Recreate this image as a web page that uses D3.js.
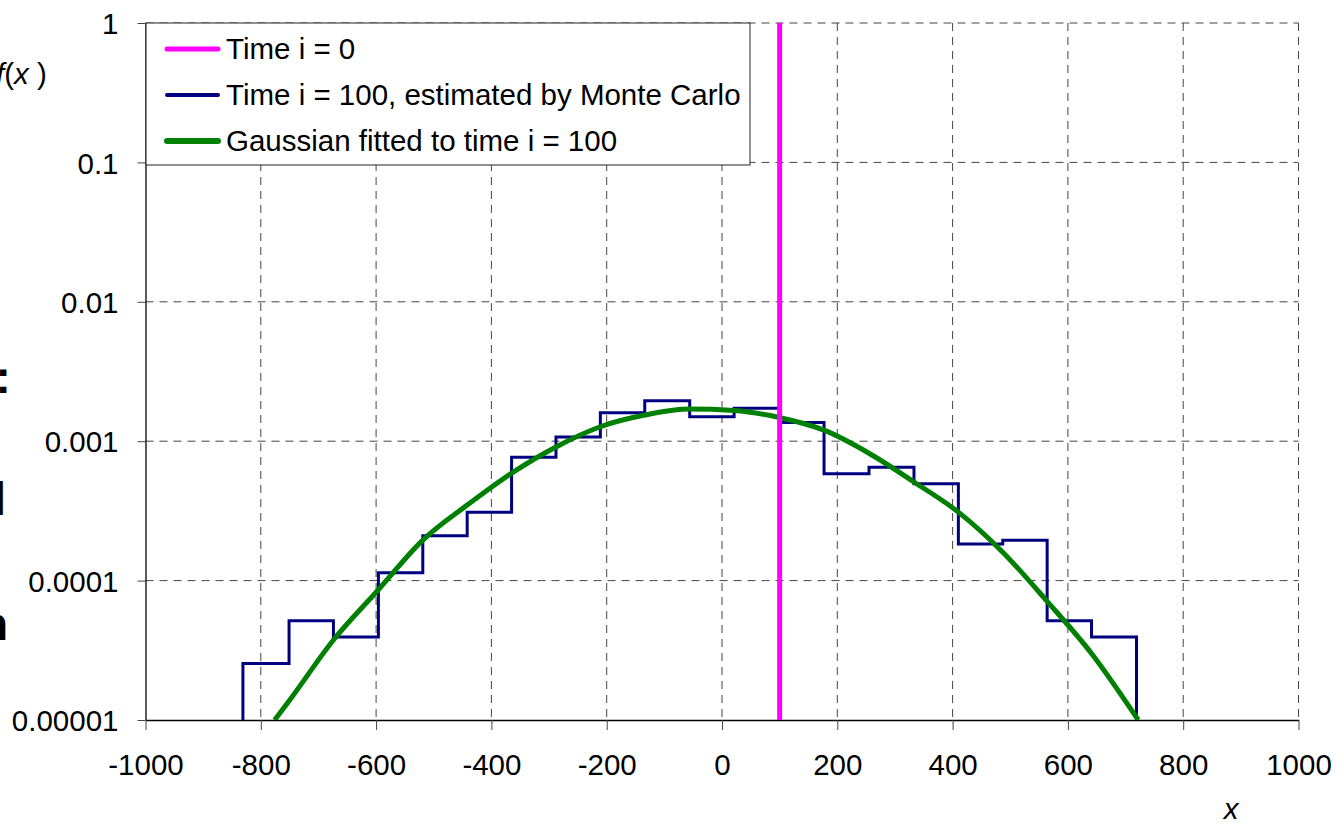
<!DOCTYPE html>
<html>
<head>
<meta charset="utf-8">
<script src="https://cdn.jsdelivr.net/npm/d3@7"></script>
<style>
  body { margin: 0; background: #fff; }
  svg { display: block; font-family: "Liberation Sans", Arial, sans-serif; }
</style>
</head>
<body>
<svg id="chart"></svg>
<script>
// Chart dimensions
const totalWidth = 1344, totalHeight = 825;
const margin = { top: 23, right: 45.5, bottom: 105, left: 145.5 };
const width = totalWidth - margin.left - margin.right;
const height = totalHeight - margin.top - margin.bottom;
const fontSize = "29.5px";

// Data
const xTicks = [-1000, -800, -600, -400, -200, 0, 200, 400, 600, 800, 1000];
const yTicks = [1e-5, 1e-4, 1e-3, 1e-2, 1e-1, 1];
const yTickLabels = ["0.00001", "0.0001", "0.001", "0.01", "0.1", "1"];

// time i = 0 : all mass at x = 100
const initialX = 100;

// Monte Carlo histogram at time i = 100 (bin edges and densities)
const binEdges = [-831, -751, -674, -596, -519, -442, -365, -288, -211, -134, -56,
                  21, 99, 177, 255, 333, 410, 487, 564, 641, 719];
const mcDensity = [2.54e-5, 5.15e-5, 3.94e-5, 1.14e-4, 2.10e-4, 3.09e-4, 7.67e-4, 1.07e-3, 1.60e-3, 1.95e-3,
                   1.50e-3, 1.72e-3, 1.36e-3, 5.85e-4, 6.50e-4, 4.95e-4, 1.83e-4, 1.95e-4, 5.15e-5, 3.94e-5];

// Gaussian fitted to time i = 100
const gaussX = [-776, -751, -674, -596, -519, -442, -365, -288, -211, -134, -56,
                21, 99, 177, 255, 333, 410, 487, 564, 641, 722];
const gaussY = [1.0e-5, 1.37e-5, 3.75e-5, 8.6e-5, 1.95e-4, 3.48e-4, 5.9e-4, 9.1e-4, 1.27e-3, 1.54e-3, 1.70e-3,
                1.66e-3, 1.48e-3, 1.20e-3, 8.2e-4, 5.1e-4, 3.1e-4, 1.6e-4, 7.1e-5, 3.0e-5, 1.0e-5];

const legendLabels = ["Time i = 0", "Time i = 100, estimated by Monte Carlo", "Gaussian fitted to time i = 100"];
const legendColors = ["#ff00ff", "#000080", "#008000"];
const legendWidths = [5, 4, 6];

const svg = d3.select("#chart")
    .attr("width", totalWidth)
    .attr("height", totalHeight);

svg.append("rect")
    .attr("width", totalWidth)
    .attr("height", totalHeight)
    .attr("fill", "#fff");

const g = svg.append("g")
    .attr("transform", `translate(${margin.left},${margin.top})`);

// Scales
const x = d3.scaleLinear().domain([-1000, 1000]).range([0, width]);
const y = d3.scaleLog().domain([1e-5, 1]).range([height, 0]);

// Clip to plot area
svg.append("defs").append("clipPath").attr("id", "plotClip")
    .append("rect").attr("x", 0).attr("y", 0).attr("width", width).attr("height", height);

// Dashed gridlines
g.selectAll(".vgrid")
    .data(xTicks.filter(d => d > -1000))
    .enter().append("line")
    .attr("x1", d => x(d)).attr("x2", d => x(d))
    .attr("y1", 0).attr("y2", height)
    .attr("stroke", "#444")
    .attr("stroke-width", 1)
    .attr("stroke-dasharray", "8,6");

g.selectAll(".hgrid")
    .data(yTicks.filter(d => d > 1e-5))
    .enter().append("line")
    .attr("x1", 0).attr("x2", width)
    .attr("y1", d => y(d)).attr("y2", d => y(d))
    .attr("stroke", "#444")
    .attr("stroke-width", 1)
    .attr("stroke-dasharray", "8,6");

// Axes
const yAxis = g.append("g")
    .call(d3.axisLeft(y)
        .tickValues(yTicks)
        .tickFormat((d, i) => yTickLabels[i])
        .tickSize(8)
        .tickSizeOuter(0)
        .tickPadding(19));

const xAxis = g.append("g")
    .attr("transform", `translate(0,${height})`)
    .call(d3.axisBottom(x)
        .tickValues(xTicks)
        .tickFormat(d => String(d))
        .tickSize(10)
        .tickSizeOuter(0)
        .tickPadding(24));

[xAxis, yAxis].forEach(a => {
    a.select(".domain").attr("stroke", "#000").attr("stroke-width", 1.3);
    a.selectAll(".tick line").attr("stroke", "#444");
    a.selectAll(".tick text")
        .attr("fill", "#000")
        .style("font-size", fontSize)
        .style("font-family", "'Liberation Sans', Arial, sans-serif");
});
yAxis.selectAll(".tick text").attr("dy", "0.36em");
xAxis.selectAll(".tick text").attr("dy", "0.71em");

const plot = g.append("g").attr("clip-path", "url(#plotClip)");

// Monte Carlo histogram as a step line
const stepPoints = [[binEdges[0], 1e-5]];
mcDensity.forEach((v, i) => stepPoints.push([binEdges[i], v]));
stepPoints.push([binEdges[binEdges.length - 1], mcDensity[mcDensity.length - 1]]);
stepPoints.push([binEdges[binEdges.length - 1], 1e-5]);

plot.append("path")
    .datum(stepPoints)
    .attr("fill", "none")
    .attr("stroke", "#000080")
    .attr("stroke-width", 3)
    .attr("stroke-linejoin", "miter")
    .attr("d", d3.line()
        .x(d => x(d[0]))
        .y(d => y(d[1]))
        .curve(d3.curveStepAfter));

// Gaussian fit
plot.append("path")
    .datum(gaussX.map((d, i) => [d, gaussY[i]]))
    .attr("fill", "none")
    .attr("stroke", "#008000")
    .attr("stroke-width", 5)
    .attr("d", d3.line()
        .x(d => x(d[0]))
        .y(d => y(d[1]))
        .curve(d3.curveMonotoneX));

// Time i = 0 : vertical line
plot.append("line")
    .attr("x1", x(initialX)).attr("x2", x(initialX))
    .attr("y1", 0).attr("y2", height)
    .attr("stroke", "#ff00ff")
    .attr("stroke-width", 5);

// Legend
const legend = g.append("g").attr("transform", "translate(0.5,0)");
legend.append("rect")
    .attr("x", 0).attr("y", 0)
    .attr("width", 604).attr("height", 142)
    .attr("fill", "#fff")
    .attr("stroke", "#222")
    .attr("stroke-width", 1);

const items = legend.selectAll(".item")
    .data(legendLabels)
    .enter().append("g")
    .attr("transform", (d, i) => `translate(0,${26 + i * 46})`);

items.append("line")
    .attr("x1", 21).attr("x2", 72)
    .attr("y1", 0).attr("y2", 0)
    .attr("stroke", (d, i) => legendColors[i])
    .attr("stroke-width", (d, i) => legendWidths[i])
    .attr("stroke-linecap", "round");

items.append("text")
    .attr("x", 80)
    .attr("y", 10)
    .style("font-size", fontSize)
    .attr("fill", "#000")
    .text(d => d);

// Axis titles
const fx = svg.append("text")
    .attr("x", -4)
    .attr("y", 84)
    .style("font-size", fontSize)
    .attr("fill", "#000");
fx.append("tspan").style("font-style", "italic").text("f");
fx.append("tspan").text("(");
fx.append("tspan").style("font-style", "italic").text("x");
fx.append("tspan").text(" )");

svg.append("text")
    .attr("x", 1231)
    .attr("y", 819)
    .attr("text-anchor", "middle")
    .style("font-size", fontSize)
    .style("font-style", "italic")
    .attr("fill", "#000")
    .text("x");

// Text fragments cut off at the left page edge
const fragments = [
    { t: ":", x: 10.7, y: 393 },
    { t: "l", x: 6, y: 515 },
    { t: "n", x: 8, y: 640 }
];
svg.selectAll(".frag")
    .data(fragments)
    .enter().append("text")
    .attr("x", d => d.x)
    .attr("y", d => d.y)
    .attr("text-anchor", "end")
    .style("font-size", "46px")
    .style("font-weight", "bold")
    .attr("fill", "#000")
    .text(d => d.t);
</script>
</body>
</html>
